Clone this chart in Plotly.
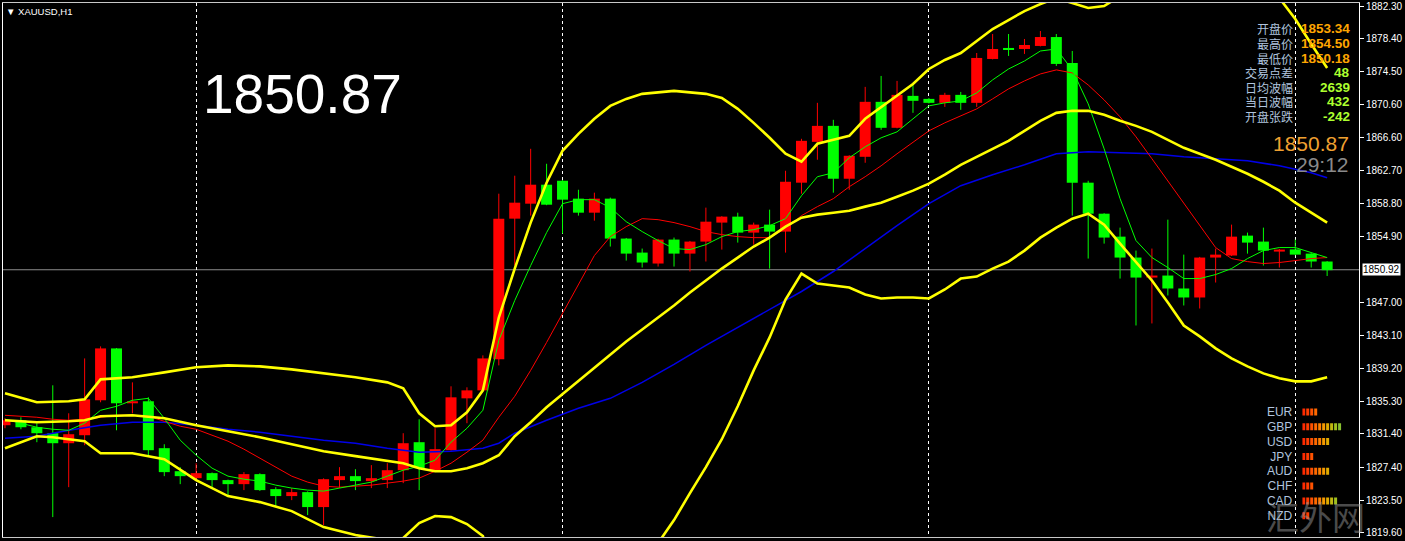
import plotly.graph_objects as go

# ---------------- data ----------------
symbol_title = "▼ XAUUSD,H1"
last_price = 1850.87
bid_price = 1850.92
countdown = "29:12"

candle_idx = list(range(84))
opens = [1832.42, 1833.01, 1832.18, 1831.47, 1830.28, 1831.23, 1835.39, 1841.56, 1835.03, 1835.27,
         1829.69, 1826.95, 1826.12, 1826.72, 1825.89, 1825.41, 1826.60, 1824.82, 1823.99, 1824.46,
         1822.68, 1825.89, 1826.36, 1825.77, 1825.89, 1827.07, 1830.40, 1827.07, 1829.45, 1835.62,
         1836.57, 1840.26, 1857.00, 1858.78, 1861.04, 1861.51, 1859.38, 1857.71, 1859.38, 1854.63,
         1852.96, 1851.66, 1854.51, 1852.84, 1854.27, 1856.53, 1857.24, 1855.34, 1856.29, 1855.46,
         1861.28, 1866.14, 1868.04, 1861.75, 1864.36, 1870.90, 1867.81, 1871.61, 1871.25, 1870.78,
         1871.73, 1870.78, 1876.00, 1877.31, 1877.19, 1877.55, 1878.61, 1875.53, 1861.28, 1857.59,
         1854.86, 1852.37, 1849.99, 1850.23, 1848.69, 1847.62, 1852.37, 1852.61, 1854.98, 1854.27,
         1853.08, 1853.34, 1852.84, 1851.90]
highs = [1833.25, 1833.37, 1832.66, 1837.17, 1833.84, 1840.37, 1841.80, 1841.60, 1837.52, 1835.74,
         1830.16, 1827.43, 1827.90, 1826.80, 1825.95, 1826.84, 1826.70, 1825.05, 1824.94, 1824.55,
         1826.10, 1827.43, 1827.19, 1827.67, 1827.90, 1831.47, 1833.13, 1832.06, 1837.05, 1836.93,
         1840.73, 1859.97, 1862.11, 1865.31, 1863.53, 1861.60, 1860.44, 1860.09, 1859.50, 1854.70,
         1853.44, 1854.60, 1854.75, 1854.35, 1858.31, 1857.30, 1857.71, 1856.53, 1858.07, 1862.70,
         1866.50, 1870.78, 1868.76, 1864.55, 1872.68, 1873.98, 1873.39, 1873.03, 1871.35, 1871.97,
         1872.08, 1876.71, 1878.97, 1878.97, 1878.38, 1879.33, 1878.97, 1876.95, 1861.51, 1857.65,
         1855.93, 1853.20, 1853.44, 1856.88, 1852.72, 1852.45, 1853.44, 1856.29, 1855.34, 1855.93,
         1853.40, 1854.50, 1852.90, 1851.95]
lows = [1832.06, 1831.94, 1830.40, 1821.49, 1825.05, 1830.04, 1835.15, 1831.82, 1833.84, 1828.74,
        1826.36, 1825.41, 1825.89, 1824.82, 1823.87, 1824.70, 1824.60, 1822.80, 1823.51, 1821.73,
        1820.54, 1824.94, 1824.70, 1824.94, 1824.94, 1825.53, 1824.70, 1826.84, 1829.40, 1832.66,
        1836.50, 1839.54, 1851.42, 1857.36, 1858.60, 1855.22, 1857.36, 1856.76, 1853.68, 1852.01,
        1851.18, 1851.30, 1851.30, 1850.71, 1851.90, 1853.32, 1854.15, 1853.91, 1851.06, 1852.96,
        1859.97, 1864.01, 1860.09, 1860.44, 1863.65, 1867.57, 1867.75, 1869.59, 1870.70, 1870.30,
        1869.95, 1870.30, 1875.95, 1876.36, 1876.60, 1877.50, 1875.17, 1857.36, 1852.25, 1854.03,
        1849.87, 1844.29, 1844.53, 1847.86, 1846.67, 1846.31, 1849.40, 1852.55, 1852.84, 1851.42,
        1851.18, 1852.65, 1851.18, 1850.18]
closes = [1833.01, 1832.18, 1831.47, 1830.28, 1831.35, 1835.50, 1841.56, 1835.03, 1835.27, 1829.45,
          1826.84, 1826.36, 1826.72, 1825.89, 1825.41, 1826.60, 1824.70, 1823.99, 1824.46, 1822.68,
          1826.00, 1826.36, 1825.77, 1826.12, 1827.07, 1830.28, 1827.31, 1829.57, 1835.74, 1836.57,
          1840.37, 1857.00, 1858.90, 1861.04, 1858.66, 1859.26, 1857.71, 1859.38, 1854.63, 1852.84,
          1851.78, 1854.51, 1852.84, 1854.27, 1856.64, 1857.24, 1855.34, 1856.29, 1855.46, 1861.39,
          1866.26, 1868.04, 1861.75, 1864.48, 1870.90, 1867.81, 1871.73, 1871.02, 1870.78, 1871.73,
          1870.78, 1876.12, 1877.19, 1877.07, 1877.66, 1878.61, 1875.41, 1861.28, 1857.59, 1854.75,
          1852.37, 1849.99, 1850.23, 1848.69, 1847.62, 1852.37, 1852.72, 1854.86, 1854.15, 1853.20,
          1853.32, 1852.72, 1851.90, 1850.87]

# Bollinger bands
bb_upper_idx = [0, 2, 4, 5, 6, 8, 10, 12, 14, 16, 18, 20, 22, 24, 25, 26, 27, 28, 29, 30,
                31, 32, 33, 34, 35, 36, 37, 38, 39, 40, 42, 44, 45, 46, 47, 48, 49, 50,
                51, 52, 53, 54, 55, 56, 57, 58, 59, 60, 61, 62, 63, 64, 65, 66, 67, 68, 69, 70,
                72, 74, 76, 78, 80, 81, 82, 83]
bb_upper = [1836.22, 1835.15, 1835.27, 1835.50, 1837.88, 1838.12, 1838.71, 1839.31, 1839.54, 1839.42,
            1839.07, 1838.59, 1838.12, 1837.52, 1836.81, 1833.84, 1832.30, 1832.42, 1833.96, 1836.57,
            1845.24, 1851.06, 1856.53, 1861.28, 1865.08, 1867.09, 1868.88, 1870.42, 1871.25, 1871.85,
            1872.20, 1871.85, 1871.37, 1870.06, 1868.40, 1866.62, 1864.72, 1863.77,
            1865.91, 1866.38, 1866.86, 1868.88, 1870.30, 1871.61, 1873.03, 1874.81, 1875.88, 1876.71,
            1878.14, 1879.56, 1880.63, 1881.70, 1882.53, 1883.25, 1882.65, 1882.06, 1882.30, 1883.48,
            1885.03, 1886.45, 1886.45, 1885.50, 1883.25, 1880.75, 1877.78, 1874.93]
bb_mid_idx = [0, 2, 4, 5, 6, 8, 10, 12, 14, 16, 18, 20, 22] + list(range(24, 84))
bb_mid = [1833.01, 1832.77, 1832.89, 1833.01, 1833.49, 1833.60, 1833.25, 1832.42, 1831.70, 1830.99,
          1830.16, 1829.33, 1828.74,
          1828.14, 1827.90, 1827.31, 1826.95, 1826.95, 1827.31, 1827.90, 1828.85, 1831.11, 1832.77,
          1834.55, 1836.10, 1837.64, 1839.19, 1840.85, 1842.39, 1843.82, 1845.24, 1846.67, 1848.21,
          1849.64, 1851.06, 1852.37, 1853.68, 1854.74, 1856.05, 1857.12, 1857.48, 1857.71, 1857.95,
          1858.43, 1858.90, 1859.61, 1860.33, 1861.16, 1862.23, 1863.41, 1864.36, 1865.31, 1866.26,
          1867.45, 1868.64, 1869.59, 1869.83, 1869.83, 1869.35, 1868.64, 1868.04, 1867.33, 1866.38,
          1865.43, 1864.72, 1864.01, 1863.18, 1862.34, 1861.39, 1860.33, 1858.90, 1857.71, 1856.53]
bb_lower_idx = [0, 2, 3, 4, 5, 6, 8, 10, 12, 14, 16, 18, 20, 22, 24] + list(range(25, 84))
bb_lower = [1829.69, 1831.11, 1830.99, 1830.75, 1830.52, 1829.09, 1829.09, 1828.38, 1825.89, 1823.99,
            1823.27, 1822.20, 1820.30, 1819.35, 1818.76,
            1819.00, 1820.78, 1821.61, 1821.49, 1820.66, 1819.24, 1812.47, 1811.16, 1809.02, 1807.83,
            1807.12, 1808.19, 1809.50, 1811.28, 1813.53, 1815.79, 1818.40, 1821.13, 1824.34, 1827.43,
            1830.75, 1834.67, 1838.95, 1842.87, 1847.38, 1850.47, 1849.28, 1849.04, 1848.81, 1847.97,
            1847.50, 1847.62, 1847.62, 1847.50, 1848.57, 1849.87, 1850.11, 1851.06, 1851.89, 1853.20,
            1854.74, 1855.93, 1857.00, 1857.59, 1856.29, 1854.03, 1851.77, 1849.64, 1847.02, 1844.29,
            1842.99, 1841.56, 1840.37, 1839.42, 1838.59, 1838.00, 1837.64, 1837.64, 1838.12]

# moving averages
ma_blue_idx = [0, 2, 4, 6, 8, 10, 12, 14, 16, 18, 20, 22, 24, 26, 28, 30, 31, 32, 34, 36, 38, 40,
               42, 44, 46, 48, 50, 52, 54, 56, 58, 60, 62, 64, 66, 68, 70, 72, 74, 76, 78, 80, 82, 83]
ma_blue = [1830.87, 1831.11, 1831.82, 1832.42, 1832.77, 1832.77, 1832.42, 1831.94, 1831.59, 1831.11,
           1830.64, 1830.28, 1829.69, 1829.21, 1829.33, 1829.69, 1830.28, 1831.47, 1833.01, 1834.44,
           1835.62, 1837.52, 1839.66, 1841.92, 1844.06, 1846.19, 1848.33, 1850.71, 1853.44, 1856.17,
           1858.78, 1860.92, 1862.23, 1863.41, 1864.72, 1864.96, 1864.84, 1864.72, 1864.36, 1864.13,
           1863.89, 1863.29, 1862.46, 1861.87]
ma_red = [1833.60, 1833.49, 1833.37, 1833.13, 1833.01, 1833.13, 1833.37, 1833.60, 1833.60, 1833.49,
          1832.89, 1832.30, 1831.94, 1831.23, 1830.52, 1829.57, 1828.50, 1827.43, 1826.36, 1825.65,
          1825.17, 1825.05, 1825.17, 1825.29, 1825.53, 1825.77, 1826.12, 1826.95, 1827.90, 1829.21,
          1830.64, 1833.37, 1835.86, 1838.95, 1842.27, 1845.72, 1849.28, 1852.61, 1854.86, 1856.05,
          1857.00, 1856.88, 1856.53, 1856.05, 1855.46, 1855.10, 1854.86, 1854.74, 1854.74, 1855.81,
          1857.36, 1858.43, 1859.38, 1860.80, 1861.99, 1863.29, 1864.72, 1866.14, 1867.45, 1868.40,
          1869.23, 1870.06, 1871.25, 1872.44, 1873.39, 1874.22, 1874.70, 1874.34, 1872.91, 1871.13,
          1869.11, 1866.74, 1864.13, 1861.51, 1858.78, 1856.17, 1853.56, 1852.25, 1851.89, 1851.66,
          1851.78, 1852.01, 1852.25, 1852.37]
ma_green = [1833.13, 1832.66, 1832.18, 1831.94, 1831.82, 1832.66, 1834.20, 1834.67, 1835.39, 1835.62,
            1833.25, 1830.64, 1828.85, 1827.31, 1826.36, 1826.00, 1825.77, 1825.29, 1824.94, 1824.70,
            1824.58, 1824.94, 1825.29, 1825.65, 1826.36, 1827.07, 1827.55, 1828.26, 1830.40, 1832.06,
            1834.20, 1842.51, 1847.26, 1851.42, 1855.34, 1858.78, 1859.26, 1859.26, 1858.31, 1856.64,
            1855.46, 1854.39, 1853.44, 1853.32, 1853.91, 1854.86, 1855.46, 1855.69, 1856.17, 1857.00,
            1859.73, 1861.99, 1862.46, 1864.24, 1865.55, 1866.62, 1867.33, 1868.88, 1870.42, 1870.78,
            1871.01, 1871.96, 1873.51, 1874.81, 1875.76, 1876.95, 1877.19, 1874.70, 1870.66, 1865.31,
            1859.38, 1854.39, 1852.37, 1851.18, 1849.87, 1849.87, 1850.35, 1851.06, 1852.25, 1853.20,
            1853.56, 1853.56, 1852.96, 1852.37]

# day separators (candle index)
separator_idx = [12, 35, 58, 81]

# price axis labels
price_ticks = [1882.30, 1878.40, 1874.50, 1870.60, 1866.60, 1862.70, 1858.80, 1854.90,
               1847.00, 1843.10, 1839.20, 1835.30, 1831.40, 1827.40, 1823.50, 1819.60]

# info panel
info_labels = ["开盘价", "最高价", "最低价", "交易点差", "日均波幅", "当日波幅", "开盘张跌"]
info_values = ["1853.34", "1854.50", "1850.18", "48", "2639", "432", "-242"]
info_value_colors = ["#FFA500", "#FFA500", "#FFA500", "#ADFF2F", "#ADFF2F", "#ADFF2F", "#ADFF2F"]

# currency strength
currencies = ["EUR", "GBP", "USD", "JPY", "AUD", "CHF", "CAD", "NZD"]
strength = [4, 10, 7, 3, 7, 3, 9, 2]
strength_colors = ["#FF2A00", "#FF3C00", "#FF5200", "#FF6A00", "#FF8000", "#F59A00",
                   "#E0AA00", "#C0B810", "#A0C020", "#88C030"]

watermark = "汇外网"

# ---------------- layout geometry ----------------
W, H = 1405, 541
ML, MR, MT, MB = 2, 41, 2, 4
PW, PH = W - ML - MR, H - MT - MB


def pxp(x):
    return (x - ML) / PW


def pyp(y):
    return 1 - (y - MT) / PH


X_RANGE = [-0.125, 85.0]
Y_RANGE = [1819.12, 1882.66]

BULL = "#FF0000"
BEAR = "#00FF00"
RSHIFT = 7  # compensation for annotation box padding on right-anchored texts

fig = go.Figure()

# wicks
for is_bull, col in ((True, BULL), (False, BEAR)):
    wx, wy = [], []
    for i, o, h, l, c in zip(candle_idx, opens, highs, lows, closes):
        if (c >= o) == is_bull:
            wx += [i, i, None]
            wy += [l, h, None]
    fig.add_trace(go.Scatter(x=wx, y=wy, mode="lines", line=dict(color=col, width=1),
                             hoverinfo="skip", showlegend=False))

# bodies
fig.add_trace(go.Bar(
    x=candle_idx,
    y=[abs(c - o) for o, c in zip(opens, closes)],
    base=[min(o, c) for o, c in zip(opens, closes)],
    width=0.69,
    marker=dict(color=[BULL if c >= o else BEAR for o, c in zip(opens, closes)], line=dict(width=0)),
    hoverinfo="skip", showlegend=False))

# indicators
fig.add_trace(go.Scatter(x=ma_blue_idx, y=ma_blue, mode="lines",
                         line=dict(color="#0000E8", width=1.5), showlegend=False, hoverinfo="skip"))
fig.add_trace(go.Scatter(x=candle_idx, y=ma_red, mode="lines",
                         line=dict(color="#FF0000", width=1), showlegend=False, hoverinfo="skip"))
fig.add_trace(go.Scatter(x=candle_idx, y=ma_green, mode="lines",
                         line=dict(color="#00FF00", width=1), showlegend=False, hoverinfo="skip"))
for bx, by in ((bb_upper_idx, bb_upper), (bb_mid_idx, bb_mid), (bb_lower_idx, bb_lower)):
    fig.add_trace(go.Scatter(x=bx, y=by, mode="lines",
                             line=dict(color="#FFFF00", width=2.6), showlegend=False, hoverinfo="skip"))

# currency strength bars
for k, col in enumerate(strength_colors):
    names = [cur for cur, s in zip(currencies, strength) if s > k]
    if not names:
        continue
    fig.add_trace(go.Bar(
        y=names, x=[0.75] * len(names), base=[k] * len(names), orientation="h",
        width=0.47, marker=dict(color=col, line=dict(width=0)),
        xaxis="x2", yaxis="y2", hoverinfo="skip", showlegend=False))

# current price line
fig.add_hline(y=bid_price, line=dict(color="#8C8C8C", width=1), layer="below")

annotations = []
annotations.append(dict(text=symbol_title, x=pxp(3), y=pyp(11), xref="paper", yref="paper",
                        xanchor="left", yanchor="middle", showarrow=False,
                        font=dict(family="Liberation Sans", size=9.5, color="white")))
annotations.append(dict(text=f"{last_price:.2f}", x=pxp(303), y=pyp(93), xref="paper", yref="paper",
                        xanchor="center", yanchor="middle", showarrow=False,
                        font=dict(family="Liberation Sans", size=55, color="white")))
row_y0, row_step = 28, 14.6
for k, (lab, val, vc) in enumerate(zip(info_labels, info_values, info_value_colors)):
    yy = pyp(row_y0 + k * row_step)
    annotations.append(dict(text=lab, x=pxp(1293), y=yy, xref="paper", yref="paper",
                            xanchor="right", yanchor="middle", showarrow=False, xshift=RSHIFT,
                            font=dict(family="Noto Sans CJK SC", size=12, color="#B0C4DE")))
    annotations.append(dict(text=f"<b>{val}</b>", x=pxp(1350), y=yy, xref="paper", yref="paper",
                            xanchor="right", yanchor="middle", showarrow=False, xshift=RSHIFT,
                            font=dict(family="Liberation Sans", size=13.5, color=vc)))
annotations.append(dict(text=f"{last_price:.2f}", x=pxp(1350), y=pyp(143), xref="paper", yref="paper",
                        xanchor="right", yanchor="middle", showarrow=False, xshift=RSHIFT - 1,
                        font=dict(family="Liberation Sans", size=21, color="#F0A030")))
annotations.append(dict(text=countdown, x=pxp(1350), y=pyp(164), xref="paper", yref="paper",
                        xanchor="right", yanchor="middle", showarrow=False, xshift=RSHIFT - 1,
                        font=dict(family="Liberation Sans", size=21, color="#8A8A8A")))
annotations.append(dict(text=f"{bid_price:.2f}", x=1, y=bid_price, xref="paper", yref="y",
                        xanchor="left", yanchor="middle", xshift=3, showarrow=False,
                        bgcolor="white", borderpad=0,
                        font=dict(family="Liberation Sans", size=10, color="black")))
annotations.append(dict(text=watermark, x=pxp(1320), y=pyp(516), xref="paper", yref="paper",
                        xanchor="center", yanchor="middle", showarrow=False,
                        font=dict(family="Noto Sans CJK SC", size=33, color="rgba(150,150,150,0.5)")))

fig.update_layout(
    width=W, height=H,
    margin=dict(l=ML, r=MR, t=MT, b=MB, pad=0),
    paper_bgcolor="black", plot_bgcolor="black",
    barmode="overlay",
    showlegend=False,
    annotations=annotations,
    xaxis=dict(range=X_RANGE, tickvals=separator_idx, showticklabels=False, ticks="",
               showgrid=True, gridcolor="white", gridwidth=1, griddash="dot",
               zeroline=False, showline=True, linecolor="#C8C8C8", linewidth=1, mirror=True,
               rangeslider=dict(visible=False), fixedrange=True),
    yaxis=dict(range=Y_RANGE, side="right", tickvals=price_ticks,
               ticktext=[f"{v:.2f}" for v in price_ticks],
               ticks="outside", ticklen=4, tickcolor="white", showgrid=False, zeroline=False,
               showline=True, linecolor="white", linewidth=1, mirror=True,
               tickfont=dict(family="Liberation Sans", size=10, color="white"), fixedrange=True),
    xaxis2=dict(domain=[pxp(1307), pxp(1347)], range=[0, 10], anchor="y2", visible=False,
                fixedrange=True),
    yaxis2=dict(domain=[pyp(523.1), pyp(404.3)], anchor="x2", type="category",
                categoryorder="array", categoryarray=currencies, autorange="reversed",
                showgrid=False, zeroline=False, showline=False, ticks="",
                ticklabelstandoff=9,
                tickfont=dict(family="Liberation Sans", size=12, color="#B0C4DE"), fixedrange=True),
)

fig.write_html(
    "out.html",
    config={"displayModeBar": False, "staticPlot": True},
    post_script="document.body.style.margin='0';document.body.style.overflow='hidden';",
)
